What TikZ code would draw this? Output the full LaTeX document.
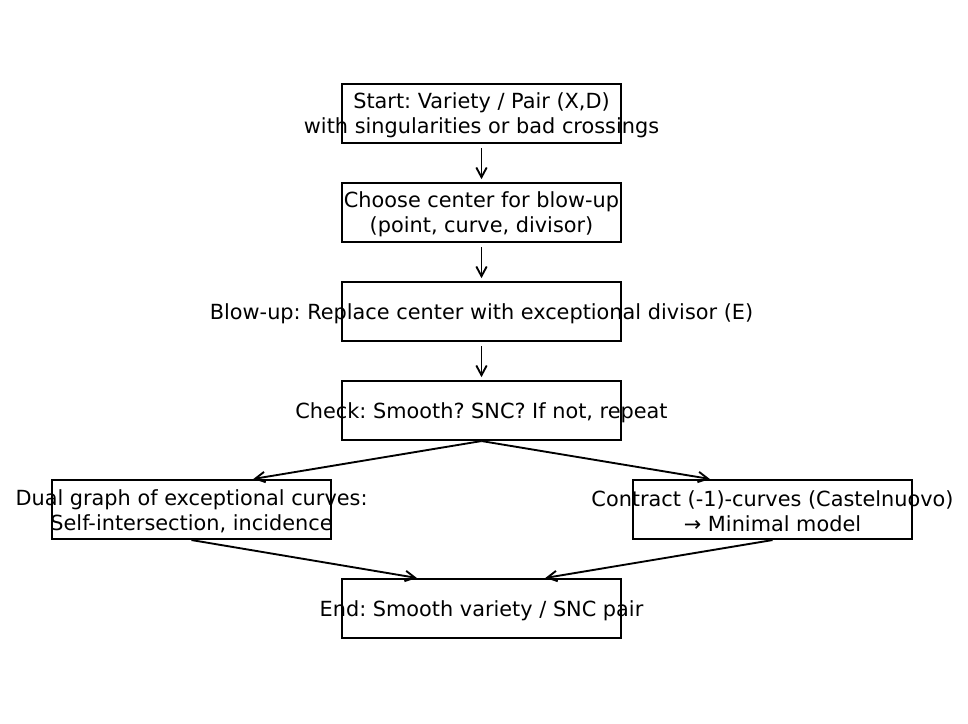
\documentclass[tikz,border=0pt]{standalone}
\usepackage{fontspec}
\setmainfont{DejaVu Sans}
\usetikzlibrary{arrows.meta}
\usetikzlibrary{calc}
\frenchspacing

\begin{document}
\begin{tikzpicture}[x=0.72pt,y=-0.72pt,line cap=butt,line join=miter,
    >={Straight Barb[length=7pt,width=7.5pt]},
    stepbox/.style={draw=black,line width=1.5pt,minimum width=279pt*0.72,minimum height=59pt*0.72,inner sep=0pt},
    steptext/.style={font=\fontsize{15}{18}\selectfont,align=center,inner sep=0pt,yshift=-1.5pt},
    flow/.style={->,line width=1.35pt}]
    \useasboundingbox (0,0) rectangle (968,723);
    % boxes
    \node[stepbox] (start) at (481.5,113.5) {};
    \node[stepbox] (choose) at (481.5,212.5) {};
    \node[stepbox] (blowup) at (481.5,311.5) {};
    \node[stepbox] (check) at (481.5,410.5) {};
    \node[stepbox] (dual) at (191.5,509.5) {};
    \node[stepbox] (contract) at (772.5,509.5) {};
    \node[stepbox] (finish) at (481.5,608.5) {};
    % texts
    \node[steptext] (start-t) at (start) {Start: Variety / Pair (X,D)\\with singularities or bad crossings};
    \node[steptext] (choose-t) at (choose) {Choose center for blow-up\\(point, curve, divisor)};
    \node[steptext] (blowup-t) at (blowup) {Blow-up: Replace center with exceptional divisor (E)};
    \node[steptext] (check-t) at (check) {Check: Smooth? SNC? If not, repeat};
    \node[steptext] (dual-t) at (dual) {Dual graph of exceptional curves:\\Self-intersection, incidence};
    \node[steptext] (contract-t) at (contract) {Contract (-1)-curves (Castelnuovo)\\→ Minimal model};
    \node[steptext] (finish-t) at (finish) {End: Smooth variety / SNC pair};
    % arrows
    \foreach \a/\b in {start/choose,choose/blowup,blowup/check}
    \draw[flow,shorten <=3pt,shorten >=2pt] (\a.south) -- (\b.north);
    \draw[flow] (check.south) -- ($(dual.north west)!0.72!(dual.north east)$);
    \draw[flow] (check.south) -- ($(contract.north west)!0.277!(contract.north east)$);
    \draw[flow] (dual.south) -- ($(finish.north west)!0.27!(finish.north east)$);
    \draw[flow] (contract.south) -- ($(finish.north west)!0.727!(finish.north east)$);
  \end{tikzpicture}
\end{document}
